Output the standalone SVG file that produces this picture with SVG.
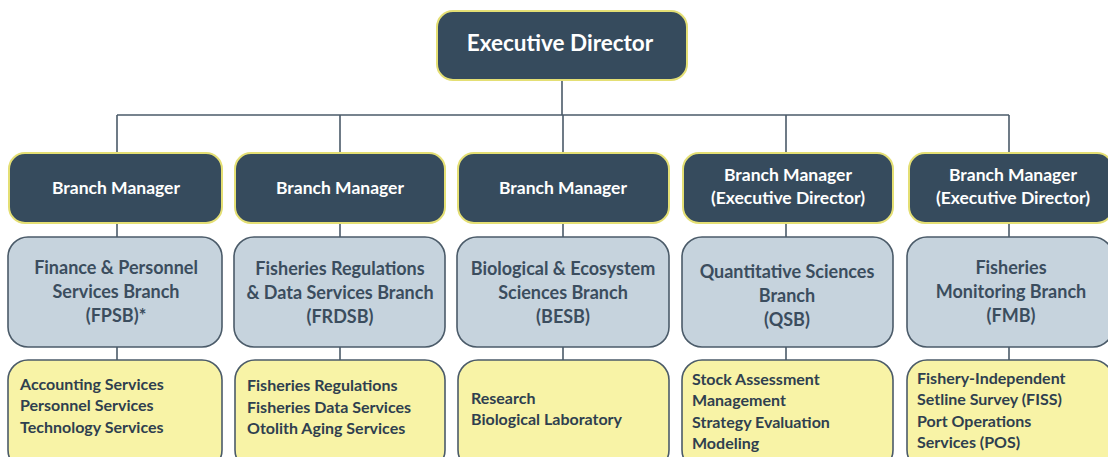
<svg xmlns="http://www.w3.org/2000/svg" width="1108" height="457" viewBox="0 0 1108 457">
<style>
.dark{fill:#364b5d;stroke:#e4df74;stroke-width:2}
.gray{fill:#c6d3dd;stroke:#4b5b69;stroke-width:1.6}
.yel{fill:#f8f3a6;stroke:#4b5b69;stroke-width:1.6}
.conn{stroke:#4b5b69;stroke-width:1.6;fill:none}
text{font-family:Lato,"Open Sans","Liberation Sans",sans-serif;font-weight:bold}
.tw{fill:#ffffff;font-size:17.5px;text-anchor:middle;dominant-baseline:central}
.tg{fill:#3b4d5e;font-size:18px;text-anchor:middle;dominant-baseline:central}
.ty{fill:#2f3f4f;font-size:16px;dominant-baseline:central}
</style>
<rect width="1108" height="457" fill="#ffffff"/>
<g id="connectors">
<path class="conn" d="M562 80V115M117 115H1009M117 115V153M340 115V153M563 115V153M786 115V153M1009 115V153"/>
<path class="conn" d="M117 223V237M340 223V237M563 223V237M786 223V237M1009 223V237"/>
<path class="conn" d="M117 347V360M340 347V360M563 347V360M786 347V360M1009 347V360"/>
</g>
<g id="exec">
<rect class="dark" x="437" y="11" width="250" height="69" rx="16"/>
<text class="tw" x="560" y="42" style="font-size:22.5px">Executive Director</text>
</g>
<g id="bm1"><rect class="dark" x="9" y="153" width="213" height="70" rx="16"/><text class="tw" x="116" y="187">Branch Manager</text></g>
<g id="bm2"><rect class="dark" x="235" y="153" width="210" height="70" rx="16"/><text class="tw" x="340" y="187">Branch Manager</text></g>
<g id="bm3"><rect class="dark" x="458" y="153" width="211" height="70" rx="16"/><text class="tw" x="563" y="187">Branch Manager</text></g>
<g id="bm4"><rect class="dark" x="683" y="153" width="210" height="70" rx="16"/><text class="tw" x="788" y="174">Branch Manager</text><text class="tw" x="788" y="197">(Executive Director)</text></g>
<g id="bm5"><rect class="dark" x="909" y="153" width="204" height="70" rx="16"/><text class="tw" x="1013" y="174">Branch Manager</text><text class="tw" x="1013" y="197">(Executive Director)</text></g>
<g id="g1"><rect class="gray" x="8" y="237" width="214" height="110" rx="20"/><text class="tg" x="116" y="267">Finance &amp; Personnel</text><text class="tg" x="116" y="291">Services Branch</text><text class="tg" x="116" y="315">(FPSB)*</text></g>
<g id="g2"><rect class="gray" x="234" y="237" width="211" height="110" rx="20"/><text class="tg" x="340" y="268">Fisheries Regulations</text><text class="tg" x="340" y="292">&amp; Data Services Branch</text><text class="tg" x="340" y="316">(FRDSB)</text></g>
<g id="g3"><rect class="gray" x="457" y="237" width="212" height="110" rx="20"/><text class="tg" x="563" y="268">Biological &amp; Ecosystem</text><text class="tg" x="563" y="292">Sciences Branch</text><text class="tg" x="563" y="316">(BESB)</text></g>
<g id="g4"><rect class="gray" x="682" y="237" width="211" height="110" rx="20"/><text class="tg" x="787" y="271">Quantitative Sciences</text><text class="tg" x="787" y="295">Branch</text><text class="tg" x="787" y="319">(QSB)</text></g>
<g id="g5"><rect class="gray" x="907" y="237" width="206" height="110" rx="20"/><text class="tg" x="1011" y="267">Fisheries</text><text class="tg" x="1011" y="291">Monitoring Branch</text><text class="tg" x="1011" y="315">(FMB)</text></g>
<g id="y1"><rect class="yel" x="8" y="360" width="214" height="110" rx="20"/><text class="ty" x="20" y="383">Accounting Services</text><text class="ty" x="20" y="404">Personnel Services</text><text class="ty" x="20" y="426">Technology Services</text></g>
<g id="y2"><rect class="yel" x="235" y="360" width="210" height="110" rx="20"/><text class="ty" x="247" y="384">Fisheries Regulations</text><text class="ty" x="247" y="406">Fisheries Data Services</text><text class="ty" x="247" y="427">Otolith Aging Services</text></g>
<g id="y3"><rect class="yel" x="458" y="360" width="211" height="110" rx="20"/><text class="ty" x="471" y="397">Research</text><text class="ty" x="471" y="418">Biological Laboratory</text></g>
<g id="y4"><rect class="yel" x="682" y="360" width="211" height="110" rx="20"/><text class="ty" x="692" y="378">Stock Assessment</text><text class="ty" x="692" y="399">Management</text><text class="ty" x="692" y="421">Strategy Evaluation</text><text class="ty" x="692" y="442">Modeling</text></g>
<g id="y5"><rect class="yel" x="907" y="360" width="206" height="110" rx="20"/><text class="ty" x="917" y="377">Fishery-Independent</text><text class="ty" x="917" y="398">Setline Survey (FISS)</text><text class="ty" x="917" y="420">Port Operations</text><text class="ty" x="917" y="441">Services (POS)</text></g>
</svg>
